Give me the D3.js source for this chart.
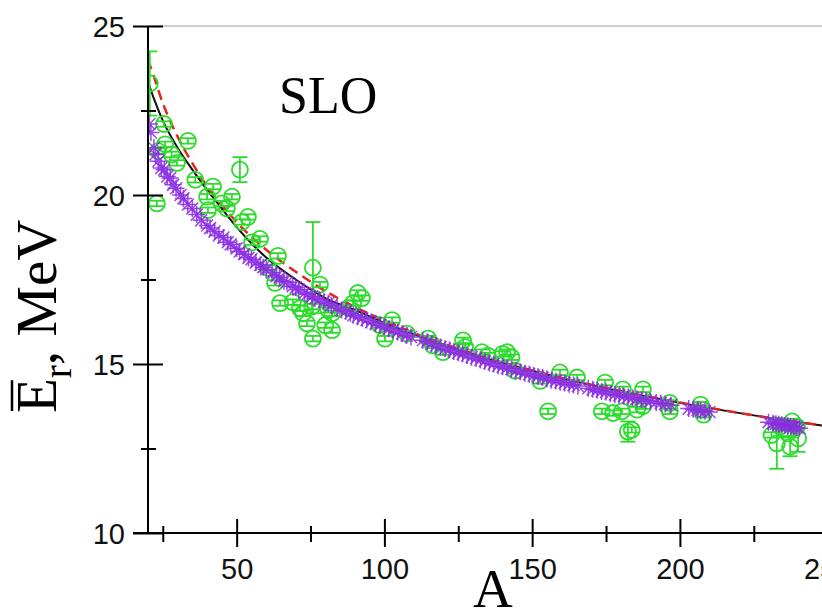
<!DOCTYPE html>
<html>
<head>
<meta charset="utf-8">
<script src="https://cdn.jsdelivr.net/npm/d3@7"></script>
<style>
  body { margin: 0; background: #fff; }
  svg { display: block; }
</style>
</head>
<body>
<div id="chart"></div>
<script>
// fitted systematics (black solid, red dashed)
var fit_A   = [20, 22, 25, 30, 35, 40, 45, 50, 60, 70, 80, 90, 100, 125, 150, 175, 200, 225, 250];
var black_E = [23.35, 22.85, 22.2, 21.4, 20.75, 20.15, 19.6, 19.05, 18.15, 17.5, 16.95, 16.6, 16.22, 15.43, 14.8, 14.28, 13.85, 13.48, 13.16];
var red_E   = [24.0, 23.5, 22.72, 21.73, 20.94, 20.26, 19.7, 19.2, 18.38, 17.73, 17.16, 16.69, 16.28, 15.45, 14.81, 14.29, 13.86, 13.48, 13.16];

// experimental points (green circles with error bars)
var exp_A = [20.6, 23.4, 25.4, 25.8, 28.0, 29.8, 33.5, 23.0, 36.0, 40.0,
  40.3, 42.0, 45.0, 46.7, 48.4, 51.1, 51.8, 53.8, 55.2, 57.9,
  60.6, 63.0, 64.0, 64.7, 69.0, 71.4, 72.5, 73.8, 75.5, 75.8,
  75.8, 78.2, 80.0, 81.0, 82.3, 82.3, 88.0, 89.4, 91.0, 92.4,
  98.5, 100.2, 102.6, 107.6, 114.8, 116.4, 119.8, 126.6, 127.3, 133.0,
  135.0, 140.0, 141.5, 143.0, 144.2, 152.7, 155.4, 159.4, 165.2, 173.6,
  174.7, 177.4, 180.4, 180.7, 182.4, 183.7, 185.5, 187.5, 187.5, 196.6,
  196.6, 207.0, 207.5, 208.0, 231.0, 232.8, 233.9, 236.5, 237.3, 238.0,
  239.6, 240.0];
var exp_E = [23.3, 21.3, 22.1, 21.5, 21.2, 20.95, 21.6, 19.75, 20.45, 19.95,
  19.55, 20.25, 19.75, 19.6, 19.95, 20.75, 19.2, 19.35, 18.6, 18.7,
  17.85, 17.4, 18.2, 16.8, 16.83, 16.65, 16.5, 16.2, 16.7, 17.85,
  15.75, 17.35, 16.15, 16.6, 16.0, 16.5, 16.65, 16.8, 17.1, 16.95,
  16.15, 15.75, 16.3, 15.9, 15.75, 15.55, 15.35, 15.7, 15.5, 15.35,
  15.25, 15.3, 15.35, 15.2, 14.8, 14.5, 13.6, 14.75, 14.6, 13.6,
  14.45, 13.55, 13.6, 14.25, 13.0, 13.05, 13.65, 14.25, 13.75, 13.85,
  13.6, 13.8, 13.65, 13.5, 12.9, 12.65, 13.15, 12.95, 12.55, 13.3,
  13.15, 12.8];
var exp_err = [0.95, 0.08, 0.08, 0.08, 0.08, 0.08, 0.08, 0.08, 0.08, 0.08,
  0.08, 0.08, 0.08, 0.08, 0.08, 0.37, 0.08, 0.08, 0.08, 0.08,
  0.08, 0.08, 0.08, 0.08, 0.08, 0.08, 0.08, 0.08, 0.08, 1.35,
  0.08, 0.08, 0.08, 0.08, 0.08, 0.08, 0.08, 0.08, 0.08, 0.08,
  0.08, 0.08, 0.08, 0.08, 0.08, 0.08, 0.08, 0.08, 0.08, 0.08,
  0.08, 0.08, 0.08, 0.08, 0.08, 0.08, 0.08, 0.08, 0.08, 0.08,
  0.08, 0.08, 0.08, 0.08, 0.3, 0.08, 0.08, 0.08, 0.08, 0.08,
  0.08, 0.08, 0.08, 0.08, 0.08, 0.75, 0.08, 0.08, 0.28, 0.08,
  0.08, 0.4];

// calculated values (purple asterisks)
var calc_A = [20.5, 21, 22, 22.5, 23.5, 24.5, 25.5, 26.5, 27.5, 28.5,
  29.5, 31, 32, 33.5, 35, 36.5, 38, 40, 41, 42.5,
  44, 45.5, 47, 48, 50, 51, 52.5, 54, 55, 56.5,
  58, 59, 60, 62, 63.5, 64.5, 66, 67, 69, 70,
  71, 73, 74, 75.5, 76.5, 78, 79.5, 81, 82, 84,
  85.5, 87, 88.5, 89.5, 91, 92.5, 94, 95.5, 97, 98.5,
  100, 101.5, 103, 104.5, 106, 107.5, 109, 113, 114.5, 116,
  117.5, 119, 120.5, 122, 123.5, 125, 126.5, 128, 129.5, 131,
  132.5, 134, 135.5, 137, 138.5, 140, 141.5, 143, 144.5, 146,
  147.5, 149, 150.5, 152, 153.5, 155, 156.5, 158, 159.5, 161,
  162.5, 164, 165.5, 169, 170.5, 172, 173.5, 175, 176.5, 178,
  179.5, 181, 182.5, 184, 185.5, 187, 188.5, 190, 192, 193.5,
  195, 197, 203, 204.5, 206, 207, 208.5, 210,
  230, 231.5, 232.5, 233.5, 234.5, 235.5, 236.5, 237.5, 238.5, 239.5, 240.5];
var calc_E = [22.1, 21.85, 21.4, 21.2, 21.0, 20.8, 20.75, 20.55, 20.5, 20.3,
  20.2, 20.0, 19.9, 19.72, 19.6, 19.42, 19.25, 19.1, 19.02, 18.92,
  18.8, 18.74, 18.6, 18.54, 18.42, 18.33, 18.25, 18.14, 18.1, 18.0,
  17.93, 17.86, 17.8, 17.7, 17.6, 17.56, 17.45, 17.42, 17.3, 17.26,
  17.2, 17.1, 17.06, 17.0, 16.94, 16.9, 16.84, 16.8, 16.74, 16.66,
  16.6, 16.56, 16.5, 16.44, 16.4, 16.35, 16.3, 16.24, 16.2, 16.15,
  16.1, 16.04, 16.0, 15.95, 15.9, 15.84, 15.8, 15.7, 15.66, 15.6,
  15.55, 15.5, 15.45, 15.42, 15.37, 15.33, 15.3, 15.25, 15.2, 15.17,
  15.12, 15.08, 15.03, 15.0, 14.95, 14.92, 14.88, 14.85, 14.8, 14.77,
  14.73, 14.7, 14.66, 14.63, 14.6, 14.56, 14.52, 14.5, 14.46, 14.44,
  14.4, 14.38, 14.35, 14.28, 14.25, 14.22, 14.19, 14.17, 14.13, 14.1,
  14.08, 14.05, 14.02, 14.0, 13.97, 13.95, 13.92, 13.9, 13.86, 13.84,
  13.82, 13.78, 13.68, 13.66, 13.64, 13.62, 13.6, 13.58,
  13.28, 13.25, 13.23, 13.22, 13.2, 13.18, 13.17, 13.15, 13.14, 13.12, 13.1];

var x_major = [50, 100, 150, 200, 250],
    x_minor = [25, 75, 125, 175, 225],
    y_major = [10, 15, 20, 25],
    y_minor = [12.5, 17.5, 22.5];

function draw_chart() {
  var sans = "Arial, 'Liberation Sans', sans-serif",
      serif = "'Times New Roman', 'Liberation Serif', serif",
      green = "#2cdc2c",
      purple = "#8a2be2";

  var W = 822, H = 610,
      plot_left = 148, plot_top = 26, plot_bottom = 533;

  var x = d3.scaleLinear().domain([20, 250]).range([plot_left, plot_left + 230 * 2.955]);
  var y = d3.scaleLinear().domain([10, 25]).range([plot_bottom, plot_top]);

  var svg = d3.select("#chart").append("svg")
      .attr("width", W)
      .attr("height", H);

  svg.append("defs").append("clipPath")
      .attr("id", "plot-clip")
    .append("rect")
      .attr("x", plot_left)
      .attr("y", plot_top - 20)
      .attr("width", W - plot_left)
      .attr("height", plot_bottom - plot_top + 20);

  // top frame (light)
  svg.append("line")
      .attr("x1", plot_left).attr("x2", W)
      .attr("y1", y(25)).attr("y2", y(25))
      .attr("stroke", "#a0a0a0")
      .attr("stroke-width", 1);

  var plot = svg.append("g").attr("clip-path", "url(#plot-clip)");

  // curves
  var line = d3.line()
      .x(function(d) { return x(d[0]); })
      .y(function(d) { return y(d[1]); })
      .curve(d3.curveMonotoneX);

  plot.append("path")
      .datum(d3.zip(fit_A, black_E))
      .attr("d", line)
      .attr("fill", "none")
      .attr("stroke", "#111")
      .attr("stroke-width", 2);

  plot.append("path")
      .datum(d3.zip(fit_A, red_E))
      .attr("d", line)
      .attr("fill", "none")
      .attr("stroke", "#e0261e")
      .attr("stroke-width", 2.5)
      .attr("stroke-dasharray", "10,6");

  // experimental points
  var exp_data = exp_A.map(function(a, i) { return {A: a, E: exp_E[i], err: exp_err[i]}; });

  var g_exp = plot.selectAll(".exp")
      .data(exp_data)
    .enter().append("g")
      .attr("class", "exp")
      .attr("transform", function(d) { return "translate(" + x(d.A) + ",0)"; })
      .attr("stroke", green)
      .attr("stroke-width", 1.8)
      .attr("fill", "none");

  g_exp.append("line")
      .attr("x1", 0).attr("x2", 0)
      .attr("y1", function(d) { return y(d.E + d.err); })
      .attr("y2", function(d) { return y(d.E - d.err); });
  g_exp.append("line")
      .attr("x1", -7.5).attr("x2", 7.5)
      .attr("y1", function(d) { return y(d.E + d.err); })
      .attr("y2", function(d) { return y(d.E + d.err); });
  g_exp.append("line")
      .attr("x1", -7.5).attr("x2", 7.5)
      .attr("y1", function(d) { return y(d.E - d.err); })
      .attr("y2", function(d) { return y(d.E - d.err); });
  g_exp.append("circle")
      .attr("cx", 0)
      .attr("cy", function(d) { return y(d.E); })
      .attr("r", 8);

  // calculated points, asterisks
  var star = "M0,-8.5L0,8.5M-8.5,0L8.5,0M-6,-6L6,6M-6,6L6,-6";
  plot.selectAll(".calc")
      .data(d3.zip(calc_A, calc_E))
    .enter().append("path")
      .attr("class", "calc")
      .attr("transform", function(d) { return "translate(" + x(d[0]) + "," + y(d[1]) + ")"; })
      .attr("d", star)
      .attr("fill", "none")
      .attr("stroke", purple)
      .attr("stroke-width", 1.5)
      .attr("stroke-opacity", 0.85);

  // x axis
  var xAxis = svg.append("g")
      .attr("class", "x axis")
      .attr("transform", "translate(0," + plot_bottom + ")")
      .call(d3.axisBottom(x).tickValues(x_major).tickSize(14).tickSizeOuter(0));
  xAxis.select(".domain").remove();
  xAxis.selectAll(".tick line").attr("y1", -14).attr("y2", 14).attr("stroke-width", 2);
  xAxis.selectAll(".tick text")
      .attr("y", 46).attr("dy", 0)
      .style("font-family", sans).style("font-size", "29px").attr("fill", "#111");

  var xMinor = svg.append("g")
      .attr("transform", "translate(0," + plot_bottom + ")")
      .call(d3.axisBottom(x).tickValues(x_minor).tickSize(8).tickFormat(""));
  xMinor.select(".domain").remove();
  xMinor.selectAll(".tick line").attr("y1", -7).attr("y2", 9).attr("stroke-width", 2);

  svg.append("line")
      .attr("x1", plot_left - 15).attr("x2", W)
      .attr("y1", plot_bottom).attr("y2", plot_bottom)
      .attr("stroke", "#000").attr("stroke-width", 2);

  // y axis
  var yAxis = svg.append("g")
      .attr("class", "y axis")
      .attr("transform", "translate(" + plot_left + ",0)")
      .call(d3.axisLeft(y).tickValues(y_major).tickSize(15).tickSizeOuter(0));
  yAxis.select(".domain").remove();
  yAxis.selectAll(".tick line").attr("x1", -15).attr("x2", 15).attr("stroke-width", 2);
  yAxis.selectAll(".tick text")
      .attr("x", -23).attr("dy", "0.35em")
      .style("font-family", sans).style("font-size", "29px").attr("fill", "#111");

  var yMinor = svg.append("g")
      .attr("transform", "translate(" + plot_left + ",0)")
      .call(d3.axisLeft(y).tickValues(y_minor).tickSize(7).tickFormat(""));
  yMinor.select(".domain").remove();
  yMinor.selectAll(".tick line").attr("x1", -7).attr("x2", 8).attr("stroke-width", 2);

  svg.append("line")
      .attr("x1", plot_left).attr("x2", plot_left)
      .attr("y1", plot_top).attr("y2", plot_bottom)
      .attr("stroke", "#000").attr("stroke-width", 2);

  // titles
  svg.append("text")
      .attr("x", 473).attr("y", 607)
      .style("font-family", serif).style("font-size", "55px")
      .text("A");

  svg.append("text")
      .attr("x", 279).attr("y", 113)
      .style("font-family", serif).style("font-size", "52px")
      .text("SLO");

  var ytitle_g = svg.append("g").attr("transform", "translate(56,413) rotate(-90)");
  var ytitle = ytitle_g.append("text")
      .style("font-family", serif).style("font-size", "57px");
  ytitle.append("tspan").text("E");
  ytitle.append("tspan").attr("dy", 15).style("font-size", "39px").text("r");
  ytitle.append("tspan").attr("dy", -15).text(", MeV");
  var e_width = ytitle.node().getSubStringLength(0, 1);
  ytitle_g.append("line")
      .attr("x1", 2).attr("x2", e_width - 2)
      .attr("y1", -44).attr("y2", -44)
      .attr("stroke", "#000").attr("stroke-width", 2.5);
}

draw_chart();
</script>
</body>
</html>
